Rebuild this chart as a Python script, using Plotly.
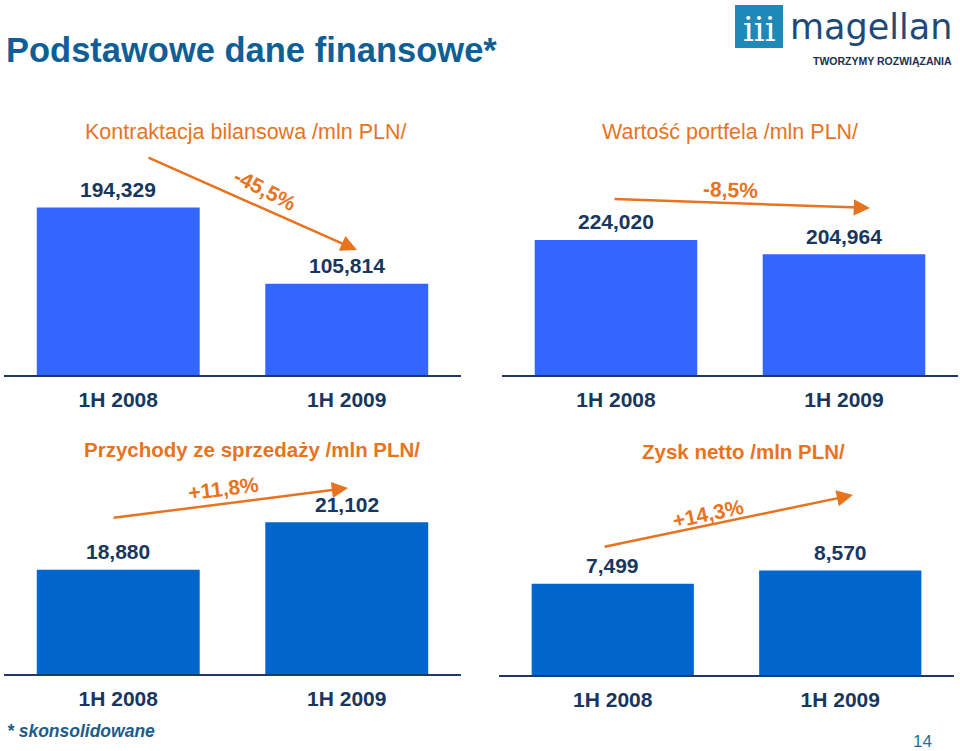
import plotly.graph_objects as go

W, H = 960, 751

categories = ["1H 2008", "1H 2009"]
kontraktacja = [194.329, 105.814]
portfel = [224.020, 204.964]
przychody = [18.880, 21.102]
zysk = [7.499, 8.570]

titles = ["Kontraktacja bilansowa /mln PLN/", "Wartość portfela /mln PLN/",
          "Przychody ze sprzedaży /mln PLN/", "Zysk netto /mln PLN/"]
changes = ["-45,5%", "-8,5%", "+11,8%", "+14,3%"]

NAVY = "#17375E"
ORANGE = "#E8731E"
FONT = "Liberation Sans, Arial, sans-serif"


def px(x):
    return x / W


def py(y):
    return 1 - y / H


panels = [
    dict(data=kontraktacja, color="#3366FF", xd=[4, 461], yd=[375, 150], rng=[0, 261]),
    dict(data=portfel, color="#3366FF", xd=[502, 958], yd=[375, 150], rng=[44, 344]),
    dict(data=przychody, color="#0066CC", xd=[4, 461], yd=[674, 460], rng=[13.98, 24.03]),
    dict(data=zysk, color="#0066CC", xd=[499, 954], yd=[675, 460], rng=[0, 17.65]),
]

fig = go.Figure()
layout = dict(
    width=W, height=H, margin=dict(l=0, r=0, t=0, b=0),
    paper_bgcolor="white", plot_bgcolor="rgba(0,0,0,0)",
    showlegend=False, separators=", ",
    font=dict(family=FONT, color=NAVY),
)
annotations = []
shapes = []

for i, p in enumerate(panels, start=1):
    xa = "x" if i == 1 else f"x{i}"
    ya = "y" if i == 1 else f"y{i}"
    fig.add_trace(go.Bar(x=categories, y=p["data"], marker=dict(color=p["color"], line=dict(width=0)),
                         width=0.713, xaxis=xa, yaxis=ya, hoverinfo="skip"))
    layout["xaxis" if i == 1 else f"xaxis{i}"] = dict(
        domain=[px(p["xd"][0]), px(p["xd"][1])], anchor=ya, range=[-0.5, 1.5],
        showline=True, linecolor="#1F3864", linewidth=1.5, ticks="",
        showgrid=False, zeroline=False, fixedrange=True,
        tickfont=dict(size=21, color=NAVY, family=FONT, weight="bold"),
        ticklabelstandoff=5,
    )
    layout["yaxis" if i == 1 else f"yaxis{i}"] = dict(
        domain=[py(p["yd"][0]), py(p["yd"][1])], anchor=xa, range=p["rng"],
        visible=False, showgrid=False, zeroline=False, fixedrange=True,
    )
    for c, v in zip(categories, p["data"]):
        annotations.append(dict(
            x=c, y=v, xref=xa, yref=ya, text=f"{v:.3f}".replace(".", ","),
            showarrow=False, yshift=18, yanchor="middle", xanchor="center",
            font=dict(size=21, color=NAVY, family=FONT, weight="bold"),
        ))

# panel titles
title_pos = [(246, 132, "normal", 21.5), (730, 132, "normal", 21.5), (252, 449, "bold", 20.5), (743, 451, "bold", 20.5)]
for t, (x, y, wgt, sz) in zip(titles, title_pos):
    annotations.append(dict(x=px(x), y=py(y), xref="paper", yref="paper", text=t, showarrow=False,
                            xanchor="center", yanchor="middle",
                            font=dict(size=sz, color=ORANGE, family=FONT, weight=wgt)))

# change arrows: (tail x, tail y, head x, head y)
arrows = [(147, 157, 357, 250), (613, 199, 870, 208), (112, 518, 348, 488), (603, 547, 853, 495)]
for (tx, ty, hx, hy) in arrows:
    annotations.append(dict(x=px(hx), y=py(hy), xref="paper", yref="paper", ax=tx - hx, ay=ty - hy,
                            axref="pixel", ayref="pixel", showarrow=True, arrowhead=2, arrowsize=1.3,
                            arrowwidth=2.5, arrowcolor=ORANGE, text=""))
label_pos = [(265, 189, 27), (730, 189, 2), (223, 488, -7), (708, 513, -12)]
for t, (x, y, ang) in zip(changes, label_pos):
    annotations.append(dict(x=px(x), y=py(y), xref="paper", yref="paper", text=t, showarrow=False,
                            xanchor="center", yanchor="middle", textangle=ang,
                            font=dict(size=21, color=ORANGE, family=FONT, weight="bold")))

# slide title
annotations.append(dict(x=px(4), y=py(50), xref="paper", yref="paper", xanchor="left", yanchor="middle",
                        text="Podstawowe dane finansowe*", showarrow=False,
                        font=dict(size=34.5, color="#0F5F96", family=FONT, weight="bold")))

# logo
shapes.append(dict(type="rect", xref="paper", yref="paper", x0=px(735), x1=px(783), y0=py(48), y1=py(5),
                   fillcolor="#1E88B8", line=dict(width=0), layer="above"))
annotations.append(dict(x=px(759), y=py(29), xref="paper", yref="paper", text="iii", showarrow=False,
                        xanchor="center", yanchor="middle",
                        font=dict(size=34, color="white", family="DejaVu Serif, serif")))
annotations.append(dict(x=px(788), y=py(27), xref="paper", yref="paper", xanchor="left", yanchor="middle",
                        text="magellan", showarrow=False,
                        font=dict(size=35, color="#1F4A78", family="DejaVu Sans, sans-serif")))
annotations.append(dict(x=px(954), y=py(61), xref="paper", yref="paper", xanchor="right", yanchor="middle",
                        text="TWORZYMY ROZWIĄZANIA", showarrow=False,
                        font=dict(size=10.5, color="#1B2F4F", family=FONT, weight="bold")))

# footnote and page number
annotations.append(dict(x=px(5), y=py(731), xref="paper", yref="paper", xanchor="left", yanchor="middle",
                        text="<b><i>* skonsolidowane</i></b>", showarrow=False,
                        font=dict(size=17.5, color="#1B5C8A", family=FONT)))
annotations.append(dict(x=px(922), y=py(741), xref="paper", yref="paper", text="14", showarrow=False,
                        xanchor="center", yanchor="middle",
                        font=dict(size=17, color="#1F6E9E", family=FONT)))

layout["annotations"] = annotations
layout["shapes"] = shapes
fig.update_layout(**layout)
fig.write_html("out.html")
